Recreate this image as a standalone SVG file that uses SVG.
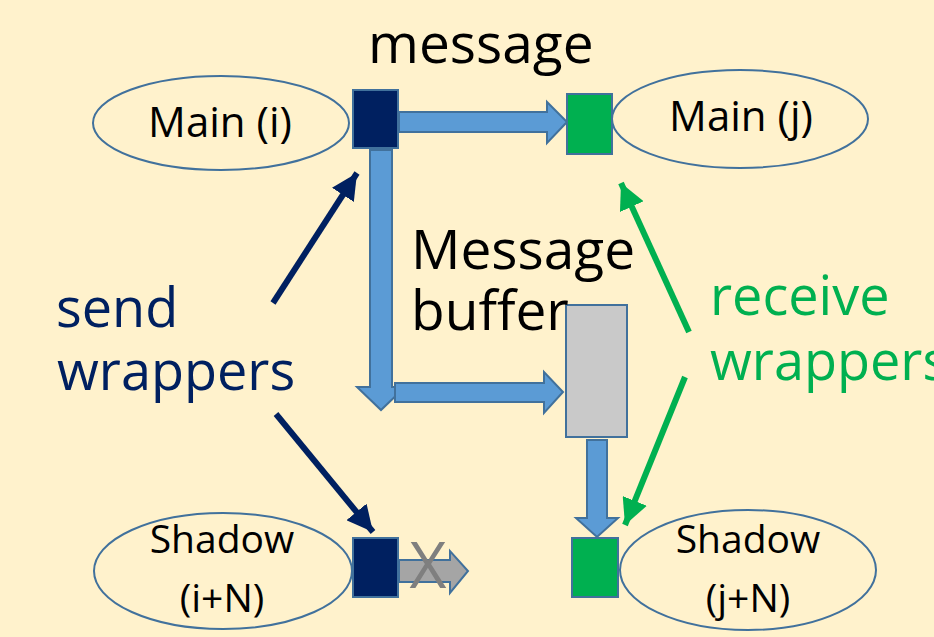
<svg xmlns="http://www.w3.org/2000/svg" width="934" height="637" viewBox="0 0 934 637">
<style>
  text { font-family: "Open Sans", "Noto Sans", sans-serif; }
  .ell { fill: #FFF2CC; stroke: #41719C; stroke-width: 2; }
  .lbl { font-size: 42px; fill: #000000; text-anchor: middle; }
  .sh { font-size: 39px; fill: #000000; text-anchor: middle; }
  .big { font-size: 55px; fill: #000000; }
  .navy { fill: #002060; }
  .green { fill: #00B050; }
  .sq { stroke: #41719C; stroke-width: 2; }
  .barrow { fill: #5B9BD5; stroke: #41719C; stroke-width: 2; stroke-linejoin: miter; }
  .garrow { fill: #A5A5A5; stroke: #41719C; stroke-width: 2; }
  .nline { stroke: #002060; stroke-width: 6; fill: none; }
  .gline { stroke: #00B050; stroke-width: 6; fill: none; }
</style>
<defs>
  <marker id="hn" markerUnits="userSpaceOnUse" markerWidth="28" markerHeight="26" refX="26" refY="13" orient="auto">
    <path d="M0,0 L26,13 L0,26 Z" fill="#002060"/>
  </marker>
  <marker id="hg" markerUnits="userSpaceOnUse" markerWidth="28" markerHeight="26" refX="26" refY="13" orient="auto">
    <path d="M0,0 L26,13 L0,26 Z" fill="#00B050"/>
  </marker>
</defs>
<rect x="0" y="0" width="934" height="637" fill="#FFF2CC"/>

<g id="main-i">
  <ellipse class="ell" cx="221" cy="123" rx="128" ry="47"/>
  <text class="lbl" x="220" y="137">Main (i)</text>
</g>
<g id="main-j">
  <ellipse class="ell" cx="740" cy="119" rx="128" ry="49"/>
  <text class="lbl" x="741" y="131">Main (j)</text>
</g>
<g id="shadow-i">
  <ellipse class="ell" cx="223" cy="571" rx="129" ry="58"/>
  <text class="sh" x="222" y="553">Shadow</text>
  <text class="sh" x="222" y="612">(i+N)</text>
</g>
<g id="shadow-j">
  <ellipse class="ell" cx="748" cy="570" rx="128" ry="60"/>
  <text class="sh" x="748" y="553">Shadow</text>
  <text class="sh" x="748" y="612">(j+N)</text>
</g>

<g id="connectors">
  <polygon class="barrow" points="370,150 392,150 392,387 405,387 381,410 357,387 370,387"/>
  <polygon class="barrow" points="399,112 547,112 547,102 567,122 547,143 547,132 399,132"/>
  <polygon class="barrow" points="395,383 544,383 544,372 563,392 544,413 544,402 395,402"/>
  <polygon class="barrow" points="587,440 607,440 607,518 618,518 597,537 576,518 587,518"/>
  <polygon class="garrow" points="399,560 450,560 450,551 468,571 450,593 450,582 399,582"/>
  <line class="nline" x1="273" y1="303" x2="357" y2="173" marker-end="url(#hn)"/>
  <line class="nline" x1="276" y1="414" x2="373" y2="532" marker-end="url(#hn)"/>
  <line class="gline" x1="689" y1="332" x2="621" y2="183" marker-end="url(#hg)"/>
  <line class="gline" x1="685" y1="377" x2="625" y2="525" marker-end="url(#hg)"/>
</g>

<g id="send-sq">
  <rect class="navy sq" x="353" y="90" width="45" height="58"/>
</g>
<g id="recv-sq">
  <rect class="green sq" x="567" y="94" width="45" height="60"/>
</g>
<g id="shadow-send-sq">
  <rect class="navy sq" x="353" y="538" width="45" height="59"/>
</g>
<g id="shadow-recv-sq">
  <rect class="green sq" x="572" y="538" width="46" height="59"/>
</g>
<g id="buffer">
  <rect x="566" y="305" width="61" height="132" fill="#C9C9C9" stroke="#41719C" stroke-width="2"/>
</g>

<text x="428" y="588" font-size="64" fill="#7F7F7F" text-anchor="middle">X</text>

<text class="big" x="368" y="63">message</text>
<text class="big" x="411" y="269">Message</text>
<text class="big" x="411" y="330">buffer</text>
<text x="56" y="327" font-size="54" fill="#002060">send</text>
<text x="57" y="390" font-size="54" fill="#002060">wrappers</text>
<text x="710" y="315" font-size="54" fill="#00B050">receive</text>
<text x="710" y="380" font-size="54" fill="#00B050">wrappers</text>
</svg>
